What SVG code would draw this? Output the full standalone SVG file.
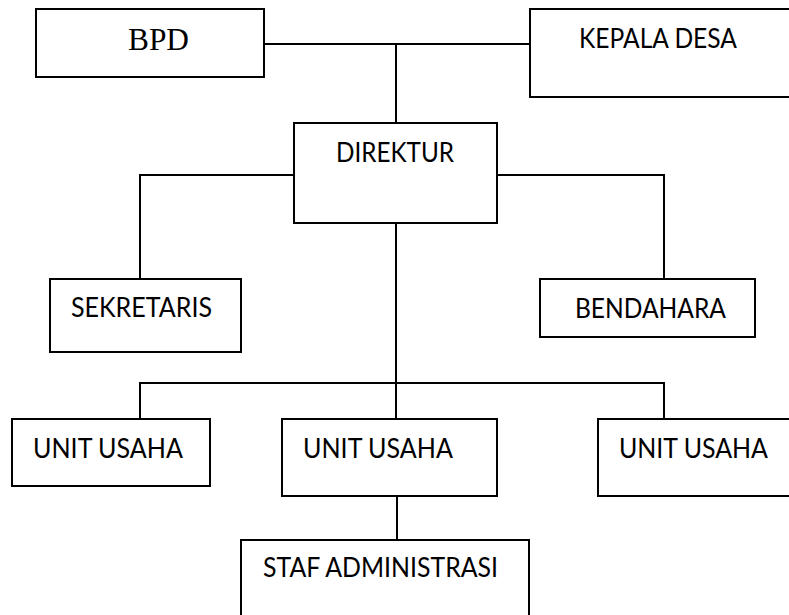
<svg xmlns="http://www.w3.org/2000/svg" width="789" height="615" viewBox="0 0 789 615">
<style>
.box{fill:#fff;stroke:#000;stroke-width:2}
.ln{fill:none;stroke:#000;stroke-width:2}
.t{font-family:Lato,"Liberation Sans",sans-serif;font-size:26px;fill:#000}
.s{font-family:"Liberation Serif",serif;font-size:32px;fill:#000}
</style>
<rect width="789" height="615" fill="#fff"/>
<g id="connectors">
<path class="ln" d="M264 44H530"/>
<path class="ln" d="M396 44V123"/>
<path class="ln" d="M294 175H140V279"/>
<path class="ln" d="M497 175H664V279"/>
<path class="ln" d="M396 223V419"/>
<path class="ln" d="M140 419V383H664V419"/>
<path class="ln" d="M397 496V540"/>
</g>
<g id="bpd"><rect class="box" x="36" y="9" width="228" height="68"/><text class="s" x="128" y="50" textLength="61" lengthAdjust="spacingAndGlyphs">BPD</text></g>
<g id="kepala-desa"><rect class="box" x="530" y="9" width="280" height="88"/><text class="t" x="579" y="48" textLength="158" lengthAdjust="spacingAndGlyphs">KEPALA DESA</text></g>
<g id="direktur"><rect class="box" x="294" y="123" width="203" height="100"/><text class="t" x="336" y="162" textLength="118" lengthAdjust="spacingAndGlyphs">DIREKTUR</text></g>
<g id="sekretaris"><rect class="box" x="50" y="279" width="191" height="73"/><text class="t" x="71" y="317" textLength="141" lengthAdjust="spacingAndGlyphs">SEKRETARIS</text></g>
<g id="bendahara"><rect class="box" x="540" y="279" width="215" height="58"/><text class="t" x="575" y="318" textLength="151" lengthAdjust="spacingAndGlyphs">BENDAHARA</text></g>
<g id="unit-usaha-1"><rect class="box" x="12" y="419" width="198" height="67"/><text class="t" x="33" y="458" textLength="150" lengthAdjust="spacingAndGlyphs">UNIT USAHA</text></g>
<g id="unit-usaha-2"><rect class="box" x="282" y="419" width="215" height="77"/><text class="t" x="303" y="458" textLength="150" lengthAdjust="spacingAndGlyphs">UNIT USAHA</text></g>
<g id="unit-usaha-3"><rect class="box" x="598" y="419" width="210" height="77"/><text class="t" x="619" y="458" textLength="149" lengthAdjust="spacingAndGlyphs">UNIT USAHA</text></g>
<g id="staf-administrasi"><rect class="box" x="241" y="540" width="288" height="100"/><text class="t" x="263" y="577" textLength="235" lengthAdjust="spacingAndGlyphs">STAF ADMINISTRASI</text></g>
</svg>
